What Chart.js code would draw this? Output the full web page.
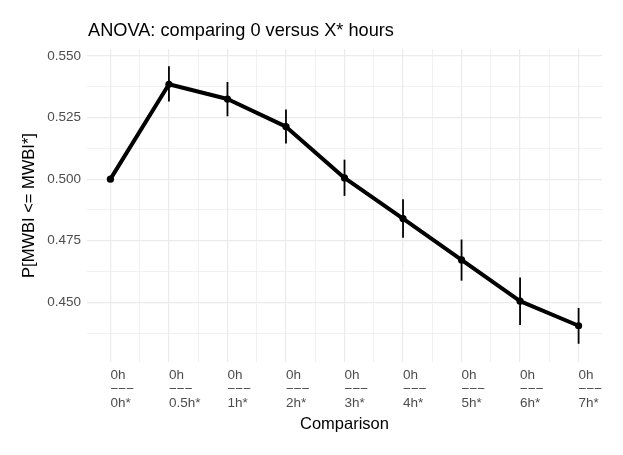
<!DOCTYPE html>
<html>
<head>
<meta charset="utf-8">
<script src="https://cdn.jsdelivr.net/npm/chart.js@4/dist/chart.umd.min.js"></script>
<style>
  html, body { margin: 0; padding: 0; background: #fff; }
  #wrap { width: 623px; height: 455px; }
</style>
</head>
<body>
<div id="wrap"><canvas id="myChart_anova"></canvas></div>
<script>
// du lieu
var comparisons = ['0h*', '0.5h*', '1h*', '2h*', '3h*', '4h*', '5h*', '6h*', '7h*'];
var pValues = [0.500, 0.5385, 0.5325, 0.5213, 0.5005, 0.4840, 0.4672, 0.4505, 0.4405];
var pLower  = [0.500, 0.5315, 0.5255, 0.5145, 0.4932, 0.4762, 0.4588, 0.4408, 0.4332];
var pUpper  = [0.500, 0.5458, 0.5394, 0.5283, 0.5079, 0.4918, 0.4755, 0.4601, 0.4477];
var yMajor = [0.450, 0.475, 0.500, 0.525, 0.550];
var yTickLabels = ['0.450', '0.475', '0.500', '0.525', '0.550'];
var yMinor = [0.4375, 0.4625, 0.4875, 0.5125, 0.5375];
var xMinor = [0.5, 1.5, 2.5, 3.5, 4.5, 5.5, 6.5, 7.5];

var FONT = "'Liberation Sans', Arial, Helvetica, sans-serif";

// thanh sai so + tieu de
var errorBars = {
    id: 'errorBars',
    beforeDatasetsDraw: function(chart) {
        var ctx = chart.ctx, x = chart.scales.x, y = chart.scales.y;
        ctx.save();
        ctx.strokeStyle = '#000';
        ctx.lineWidth = 1.8;
        for (var i = 0; i < comparisons.length; i++) {
            if (pUpper[i] === pLower[i]) continue;
            var px = x.getPixelForValue(i);
            ctx.beginPath();
            ctx.moveTo(px, y.getPixelForValue(pLower[i]));
            ctx.lineTo(px, y.getPixelForValue(pUpper[i]));
            ctx.stroke();
        }
        ctx.restore();
    },
    afterDraw: function(chart) {
        var ctx = chart.ctx;
        ctx.save();
        ctx.fillStyle = '#000';
        ctx.font = '18.2px ' + FONT;
        ctx.textBaseline = 'alphabetic';
        ctx.textAlign = 'left';
        ctx.fillText('ANOVA: comparing 0 versus X* hours', chart.chartArea.left + 1, 35.5);
        ctx.restore();
    }
};

var ctx = document.getElementById('myChart_anova');
var myChart = new Chart(ctx, {
    type: 'line',
    data: {
        datasets: [{
            data: pValues.map(function(v, i) { return {x: i, y: v}; }),
            borderColor: '#000',
            backgroundColor: '#000',
            borderWidth: 4,
            borderJoinStyle: 'round',
            tension: 0,
            pointRadius: 3.6,
            pointBorderWidth: 0,
            pointBackgroundColor: '#000',
            fill: false
        }]
    },
    options: {
        responsive: true,
        maintainAspectRatio: false,
        animation: false,
        layout: { padding: { top: 49, left: 0, right: 21, bottom: 0 } },
        plugins: {
            legend: { display: false },
            tooltip: { enabled: false },
            title: { display: false }
        },
        scales: {
            x: {
                type: 'linear',
                min: -0.4,
                max: 8.4,
                afterBuildTicks: function(scale) {
                    var vals = comparisons.map(function(c, i) { return i; }).concat(xMinor);
                    vals.sort(function(a, b) { return a - b; });
                    scale.ticks = vals.map(function(v) { return {value: v}; });
                },
                afterFit: function(scale) { scale.height = 93; },
                border: { display: false },
                grid: {
                    drawTicks: false,
                    color: '#ebebeb',
                    lineWidth: function(c) { return Number.isInteger(c.tick.value) ? 1.2 : 0.7; }
                },
                ticks: {
                    autoSkip: false,
                    maxRotation: 0,
                    align: 'start',
                    padding: 6,
                    color: '#4d4d4d',
                    font: { family: FONT, size: 13.5, lineHeight: 1.05 },
                    callback: function(v) {
                        return Number.isInteger(v) ? ['0h', '−−−', comparisons[v]] : '';
                    }
                },
                title: {
                    display: true,
                    text: 'Comparison',
                    color: '#000',
                    font: { family: FONT, size: 16.5, lineHeight: 1.2 },
                    padding: { top: 0, bottom: 20.5 }
                }
            },
            y: {
                min: 0.4258,
                max: 0.5528,
                afterBuildTicks: function(scale) {
                    var vals = yMajor.concat(yMinor).sort(function(a, b) { return a - b; });
                    scale.ticks = vals.map(function(v) { return {value: v}; });
                },
                afterFit: function(scale) { scale.width = 87; },
                border: { display: false },
                grid: {
                    drawTicks: false,
                    color: '#ebebeb',
                    lineWidth: function(c) { return yMajor.indexOf(c.tick.value) >= 0 ? 1.2 : 0.7; }
                },
                ticks: {
                    padding: 6,
                    color: '#4d4d4d',
                    font: { family: FONT, size: 13.5 },
                    callback: function(v) {
                        var k = yMajor.indexOf(v);
                        return k >= 0 ? yTickLabels[k] : '';
                    }
                },
                title: {
                    display: true,
                    text: 'P[MWBI <= MWBI*]',
                    color: '#000',
                    font: { family: FONT, size: 16.5, lineHeight: 1.2 },
                    padding: { top: 20, bottom: 0 }
                }
            }
        }
    },
    plugins: [errorBars]
});
</script>
</body>
</html>
